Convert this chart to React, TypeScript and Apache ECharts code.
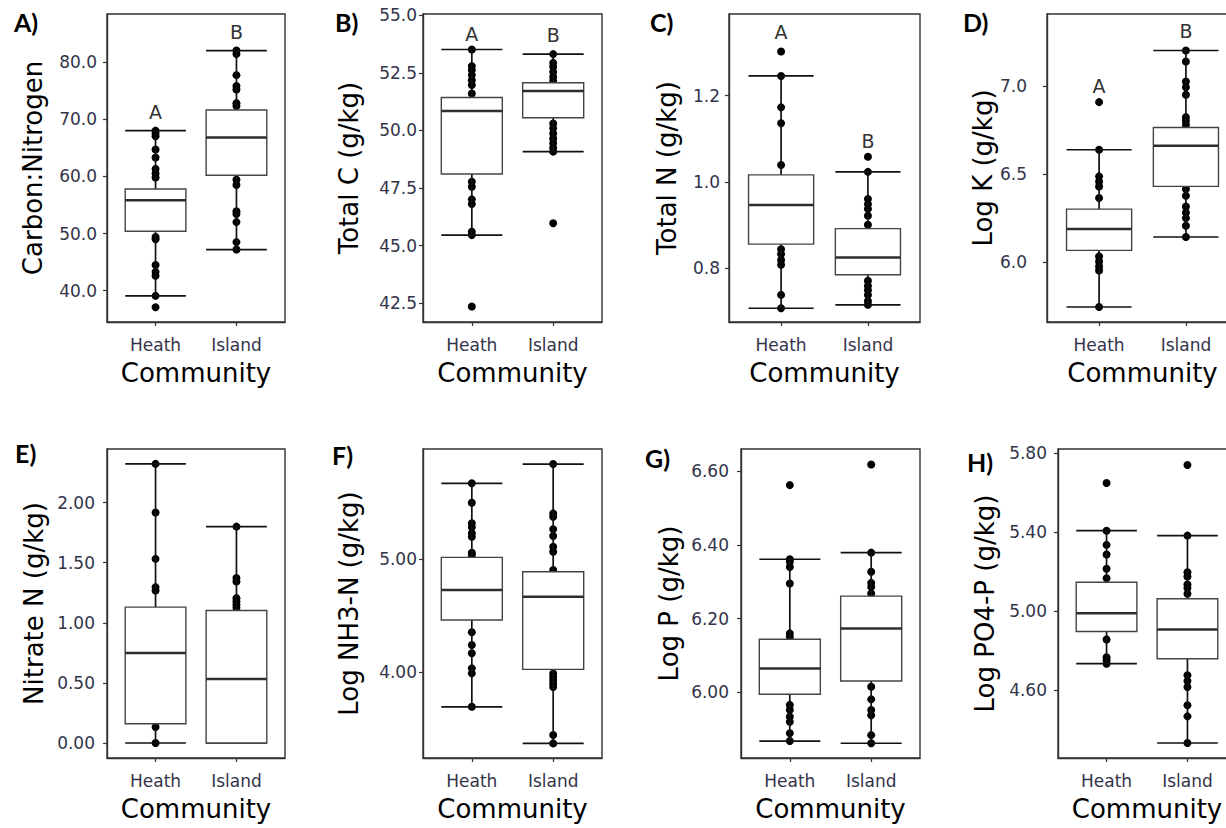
import React, { useEffect, useRef } from "react";
import * as echarts from "echarts";

// Soil chemistry by plant community: boxplots with individual samples overlaid.
const communities = ["Heath", "Island"];

// Box summaries are [lower whisker, Q1, median, Q3, upper whisker].
// A) Carbon:Nitrogen
const cnTicks = [40, 50, 60, 70, 80];
const cnHeathBox = [39.1, 50.4, 55.8, 57.8, 68.0];
const cnIslandBox = [47.2, 60.2, 66.8, 71.6, 82.0];
const cnHeathPts = [68.0, 67.5, 67.0, 64.7, 63.3, 61.3, 60.5, 59.8, 49.4, 49.0, 44.5, 43.3, 42.6, 39.1, 37.1];
const cnIslandPts = [82.0, 81.4, 77.7, 75.8, 75.2, 72.8, 72.3, 59.4, 58.5, 53.9, 53.4, 52.0, 48.5, 47.2];
const cnLetters = ["A", "B"];

// B) Total C
const tcTicks = [42.5, 45, 47.5, 50, 52.5, 55];
const tcHeathBox = [45.46, 48.11, 50.84, 51.43, 53.51];
const tcIslandBox = [49.08, 50.55, 51.71, 52.07, 53.31];
const tcHeathPts = [53.51, 52.79, 52.62, 52.4, 52.18, 51.97, 51.6, 47.78, 47.56, 47.01, 46.81, 45.61, 45.46, 42.36];
const tcIslandPts = [53.31, 52.93, 52.76, 52.54, 52.33, 52.15, 50.3, 50.09, 49.87, 49.65, 49.44, 49.25, 49.08, 45.97];
const tcLetters = ["A", "B"];

// C) Total N
const tnTicks = [0.8, 1.0, 1.2];
const tnHeathBox = [0.706, 0.855, 0.946, 1.016, 1.246];
const tnIslandBox = [0.714, 0.784, 0.824, 0.891, 1.023];
const tnHeathPts = [1.303, 1.246, 1.173, 1.136, 1.039, 0.843, 0.832, 0.818, 0.807, 0.737, 0.706];
const tnIslandPts = [1.058, 1.023, 0.96, 0.948, 0.937, 0.921, 0.9, 0.77, 0.758, 0.748, 0.737, 0.723, 0.714];
const tnLetters = ["A", "B"];

// D) Log K
const lkTicks = [6.0, 6.5, 7.0];
const lkHeathBox = [5.746, 6.067, 6.188, 6.301, 6.638];
const lkIslandBox = [6.143, 6.43, 6.661, 6.764, 7.201];
const lkHeathPts = [6.908, 6.638, 6.487, 6.458, 6.43, 6.364, 6.033, 6.004, 5.976, 5.953, 5.746];
const lkIslandPts = [7.201, 7.139, 7.025, 6.993, 6.95, 6.823, 6.804, 6.78, 6.415, 6.377, 6.316, 6.282, 6.25, 6.207, 6.143];
const lkLetters = ["A", "B"];

// E) Nitrate N
const noTicks = [0, 0.5, 1.0, 1.5, 2.0];
const noHeathBox = [0.0, 0.16, 0.748, 1.13, 2.322];
const noIslandBox = [0.0, 0.0, 0.532, 1.102, 1.8];
const noHeathPts = [2.322, 1.917, 1.532, 1.297, 1.268, 0.133, 0.0];
const noIslandPts = [1.8, 1.372, 1.344, 1.205, 1.177, 1.15, 1.125];

// F) Log NH3-N
const nhTicks = [4.0, 5.0];
const nhHeathBox = [3.696, 4.462, 4.726, 5.015, 5.668];
const nhIslandBox = [3.373, 4.026, 4.667, 4.888, 5.838];
const nhHeathPts = [5.668, 5.497, 5.315, 5.28, 5.227, 5.197, 5.056, 5.035, 4.353, 4.241, 4.168, 4.035, 3.991, 3.696];
const nhIslandPts = [5.838, 5.403, 5.373, 5.262, 5.203, 5.109, 5.064, 4.903, 3.99, 3.96, 3.93, 3.9, 3.87, 3.447, 3.373];

// G) Log P
const lpTicks = [6.0, 6.2, 6.4, 6.6];
const lpHeathBox = [5.868, 5.995, 6.065, 6.144, 6.361];
const lpIslandBox = [5.862, 6.031, 6.173, 6.261, 6.379];
const lpHeathPts = [6.562, 6.361, 6.354, 6.34, 6.295, 6.16, 6.151, 5.966, 5.952, 5.934, 5.92, 5.889, 5.868];
const lpIslandPts = [6.618, 6.379, 6.327, 6.297, 6.286, 6.268, 6.015, 5.981, 5.952, 5.938, 5.884, 5.862];

// H) Log PO4-P
const poTicks = [4.6, 5.0, 5.4, 5.8];
const poHeathBox = [4.734, 4.897, 4.99, 5.147, 5.408];
const poIslandBox = [4.332, 4.759, 4.907, 5.063, 5.383];
const poHeathPts = [5.65, 5.408, 5.336, 5.287, 5.215, 5.167, 4.857, 4.767, 4.751, 4.734];
const poIslandPts = [5.741, 5.383, 5.197, 5.176, 5.135, 5.118, 5.088, 4.675, 4.646, 4.616, 4.523, 4.467, 4.332];

const FONT = "DejaVu Sans";

type Panel = {
  tag: string;
  title: string;
  ticks: number[];
  decimals: number;
  yMin: number;
  yMax: number;
  heathBox: number[];
  islandBox: number[];
  heathPts: number[];
  islandPts: number[];
  letters?: string[];
  letterY?: number[];
  rect: [number, number, number, number];
  tagPos: [number, number];
  nameGap: number;
  labelMargin: number;
};

const panels: Panel[] = [
  {
    tag: "A)", title: "Carbon:Nitrogen", ticks: cnTicks, decimals: 1, yMin: 34.53, yMax: 88.39,
    heathBox: cnHeathBox, islandBox: cnIslandBox, heathPts: cnHeathPts, islandPts: cnIslandPts,
    letters: cnLetters, letterY: [71.3, 85.3],
    rect: [107, 14, 178, 308], tagPos: [14, 22], nameGap: 61, labelMargin: 10,
  },
  {
    tag: "B)", title: "Total C (g/kg)", ticks: tcTicks, decimals: 1, yMin: 41.69, yMax: 55.05,
    heathBox: tcHeathBox, islandBox: tcIslandBox, heathPts: tcHeathPts, islandPts: tcIslandPts,
    letters: tcLetters, letterY: [54.2, 54.15],
    rect: [423, 14, 179, 308], tagPos: [335, 22], nameGap: 61, labelMargin: 6,
  },
  {
    tag: "C)", title: "Total N (g/kg)", ticks: tnTicks, decimals: 1, yMin: 0.674, yMax: 1.39,
    heathBox: tnHeathBox, islandBox: tnIslandBox, heathPts: tnHeathPts, islandPts: tnIslandPts,
    letters: tnLetters, letterY: [1.347, 1.095],
    rect: [729, 14, 191, 308], tagPos: [650, 22], nameGap: 49, labelMargin: 9,
  },
  {
    tag: "D)", title: "Log K (g/kg)", ticks: lkTicks, decimals: 1, yMin: 5.661, yMax: 7.408,
    heathBox: lkHeathBox, islandBox: lkIslandBox, heathPts: lkHeathPts, islandPts: lkIslandPts,
    letters: lkLetters, letterY: [7.0, 7.309],
    rect: [1047, 14, 191, 308], tagPos: [963, 22], nameGap: 49, labelMargin: 20,
  },
  {
    tag: "E)", title: "Nitrate N (g/kg)", ticks: noTicks, decimals: 2, yMin: -0.125, yMax: 2.446,
    heathBox: noHeathBox, islandBox: noIslandBox, heathPts: noHeathPts, islandPts: noIslandPts,
    rect: [107, 449, 178, 309], tagPos: [15, 453], nameGap: 60, labelMargin: 12,
  },
  {
    tag: "F)", title: "Log NH3-N (g/kg)", ticks: nhTicks, decimals: 2, yMin: 3.244, yMax: 5.971,
    heathBox: nhHeathBox, islandBox: nhIslandBox, heathPts: nhHeathPts, islandPts: nhIslandPts,
    rect: [423, 449, 179, 309], tagPos: [332, 455], nameGap: 61, labelMargin: 6,
  },
  {
    tag: "G)", title: "Log P (g/kg)", ticks: lpTicks, decimals: 2, yMin: 5.822, yMax: 6.66,
    heathBox: lpHeathBox, islandBox: lpIslandBox, heathPts: lpHeathPts, islandPts: lpIslandPts,
    rect: [741, 449, 179, 309], tagPos: [645, 458], nameGap: 59, labelMargin: 12,
  },
  {
    tag: "H)", title: "Log PO4-P (g/kg)", ticks: poTicks, decimals: 2, yMin: 4.256, yMax: 5.822,
    heathBox: poHeathBox, islandBox: poIslandBox, heathPts: poHeathPts, islandPts: poIslandPts,
    rect: [1058, 449, 178, 309], tagPos: [967, 462], nameGap: 60, labelMargin: 11,
  },
];

function boxRenderer(params: any, api: any) {
  const x = api.value(0);
  const lo = api.coord([x, api.value(1)]);
  const q1 = api.coord([x, api.value(2)]);
  const md = api.coord([x, api.value(3)]);
  const q3 = api.coord([x, api.value(4)]);
  const hi = api.coord([x, api.value(5)]);
  const half = api.size([0.75, 0])[0] / 2;
  const cx = lo[0];
  const whisker = { stroke: "#111111", lineWidth: 1.7 };
  return {
    type: "group",
    children: [
      { type: "line", shape: { x1: cx, y1: hi[1], x2: cx, y2: q3[1] }, style: whisker },
      { type: "line", shape: { x1: cx, y1: q1[1], x2: cx, y2: lo[1] }, style: whisker },
      { type: "line", shape: { x1: cx - half, y1: hi[1], x2: cx + half, y2: hi[1] }, style: whisker },
      { type: "line", shape: { x1: cx - half, y1: lo[1], x2: cx + half, y2: lo[1] }, style: whisker },
      {
        type: "rect",
        shape: { x: cx - half, y: q3[1], width: half * 2, height: q1[1] - q3[1] },
        style: { fill: "#ffffff", stroke: "#444444", lineWidth: 1.4 },
      },
      {
        type: "line",
        shape: { x1: cx - half, y1: md[1], x2: cx + half, y2: md[1] },
        style: { stroke: "#2e2e2e", lineWidth: 2.5 },
      },
    ],
  };
}

function buildOption() {
  const grid: any[] = [];
  const xAxis: any[] = [];
  const yAxis: any[] = [];
  const series: any[] = [];
  const graphic: any[] = [];

  panels.forEach((p, i) => {
    const [left, top, width, height] = p.rect;
    grid.push({
      left, top, width, height,
      containLabel: false, outerBoundsMode: "none",
      show: true, borderColor: "#333333", borderWidth: 1.4, backgroundColor: "transparent",
    });
    xAxis.push({
      type: "value", gridIndex: i, min: 0.4, max: 2.6,
      splitLine: { show: false },
      axisLine: { show: true, onZero: false, lineStyle: { color: "#333333", width: 1.4 } },
      axisTick: { show: true, length: 4, customValues: [1, 2], lineStyle: { color: "#333333", width: 1.2 } },
      axisLabel: {
        customValues: [1, 2],
        formatter: (v: number) => communities[Math.round(v) - 1],
        fontFamily: FONT, fontSize: 17, color: "#33334a", margin: 14,
      },
      name: "Community", nameLocation: "middle", nameGap: 38,
      nameTextStyle: { fontFamily: FONT, fontSize: 26, color: "#000000" },
    });
    yAxis.push({
      type: "value", gridIndex: i, min: p.yMin, max: p.yMax,
      splitLine: { show: false },
      axisLine: { show: true, onZero: false, lineStyle: { color: "#333333", width: 1.4 } },
      axisTick: { show: true, length: 4, customValues: p.ticks, lineStyle: { color: "#333333", width: 1.2 } },
      axisLabel: {
        customValues: p.ticks,
        formatter: (v: number) => v.toFixed(p.decimals),
        fontFamily: FONT, fontSize: 17, color: "#33334a", margin: p.labelMargin,
      },
      name: p.title, nameLocation: "middle", nameGap: p.nameGap, nameRotate: 90,
      nameTextStyle: { fontFamily: FONT, fontSize: 26, color: "#000000" },
    });

    const pts = p.heathPts.map((v) => [1, v]).concat(p.islandPts.map((v) => [2, v]));
    series.push({
      type: "scatter", xAxisIndex: i, yAxisIndex: i, data: pts,
      symbol: "circle", symbolSize: 8, itemStyle: { color: "#000000", opacity: 1 }, z: 2, silent: true,
    });
    series.push({
      type: "custom", xAxisIndex: i, yAxisIndex: i,
      data: [[1, ...p.heathBox], [2, ...p.islandBox]],
      encode: { x: 0, y: [1, 2, 3, 4, 5] },
      renderItem: boxRenderer, z: 3, silent: true,
    });
    if (p.letters && p.letterY) {
      const letters = p.letters;
      series.push({
        type: "custom", xAxisIndex: i, yAxisIndex: i,
        data: p.letterY.map((y, k) => [k + 1, y]),
        encode: { x: 0, y: 1 },
        renderItem: (params: any, api: any) => {
          const pt = api.coord([api.value(0), api.value(1)]);
          return {
            type: "text", x: pt[0], y: pt[1],
            style: {
              text: letters[params.dataIndex], fontFamily: FONT, fontSize: 19,
              fill: "#333333", align: "center", verticalAlign: "middle",
            },
          };
        },
        z: 4, silent: true,
      });
    }
    graphic.push({
      type: "text", x: p.tagPos[0], y: p.tagPos[1],
      style: {
        text: p.tag, fontFamily: "Lato", fontWeight: "bold", fontSize: 25,
        fill: "#000000", verticalAlign: "middle",
      },
    });
  });

  return { animation: false, backgroundColor: "#ffffff", grid, xAxis, yAxis, series, graphic };
}

export default function App() {
  const ref = useRef<HTMLDivElement>(null);
  useEffect(() => {
    if (!ref.current) return;
    const chart = echarts.init(ref.current, undefined, { renderer: "svg" });
    chart.setOption(buildOption() as any);
    return () => chart.dispose();
  }, []);
  return (
    <div
      ref={ref}
      style={{ position: "fixed", left: 0, top: 0, width: 1226, height: 828, background: "#fff" }}
    />
  );
}
